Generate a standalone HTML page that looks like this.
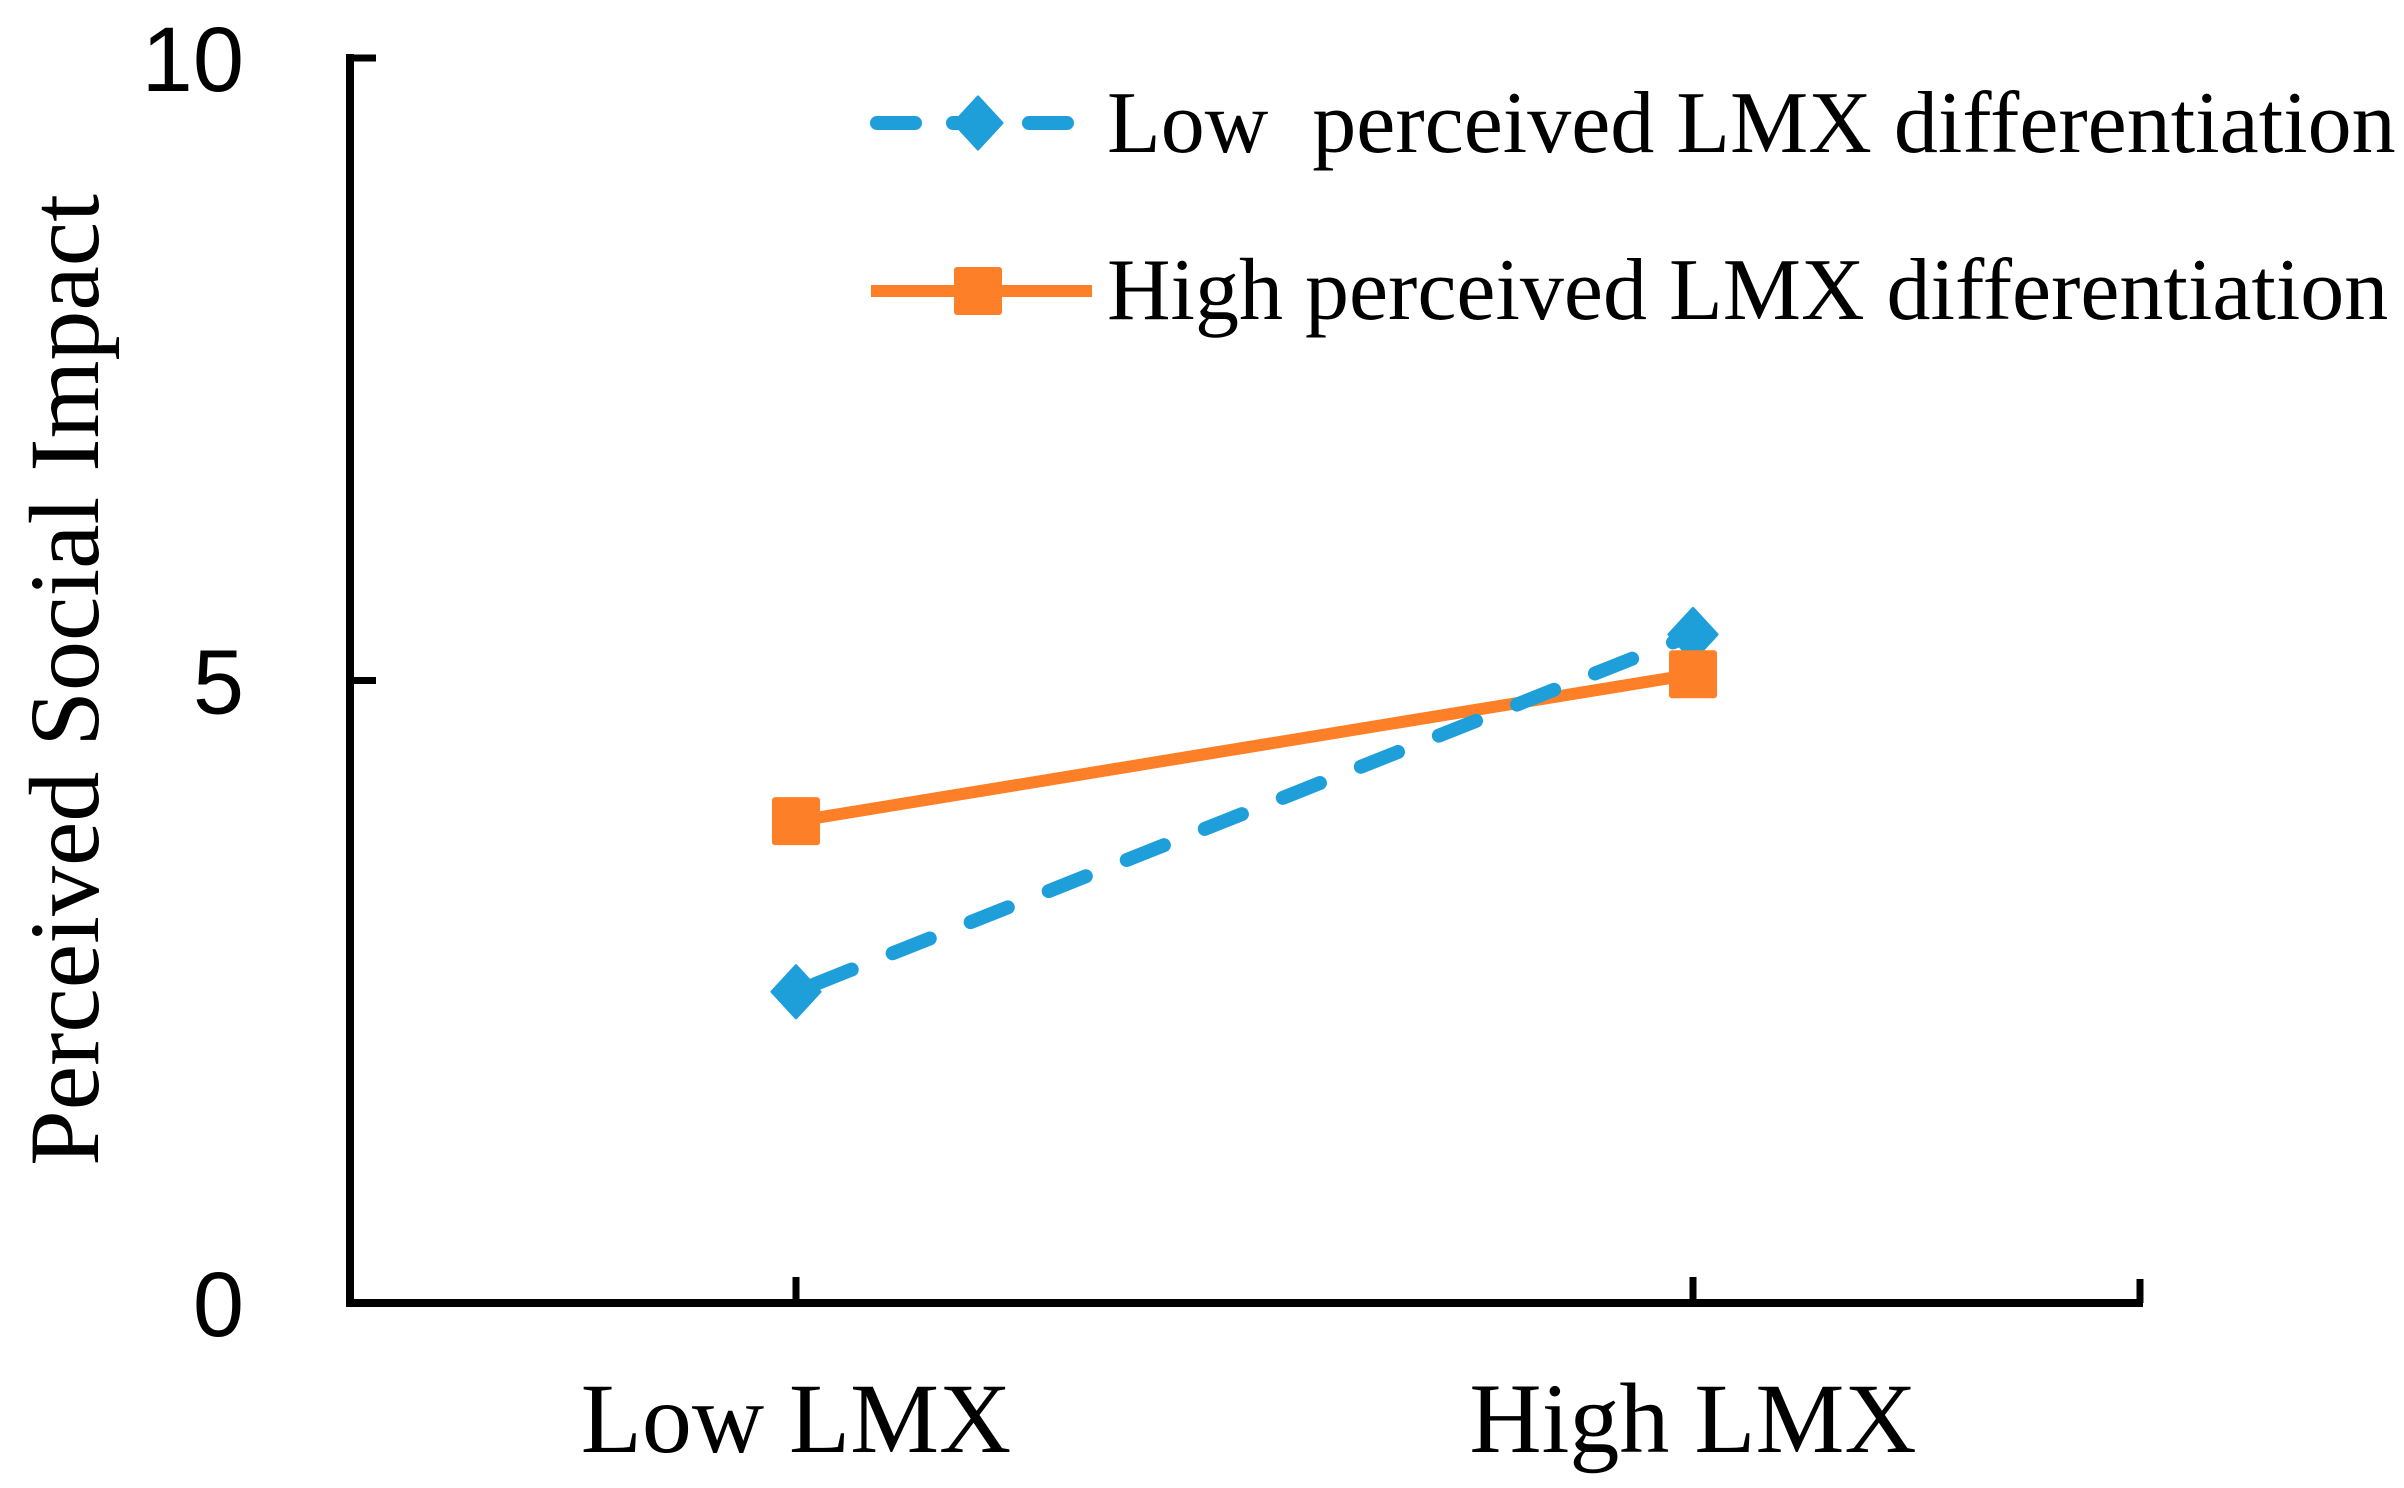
<!DOCTYPE html>
<html><head><meta charset="utf-8"><style>
html,body{margin:0;padding:0;background:#fff;}
svg{display:block;}
text{white-space:pre;}
</style></head><body>
<svg id="chart" width="2404" height="1488" viewBox="0 0 2404 1488" xmlns="http://www.w3.org/2000/svg">
<g id="axes"></g><g id="series"></g><g id="legend"></g>
</svg>
<script>
const categories = ["Low LMX", "High LMX"];
const lowDiffValues = [2.5, 5.37];
const highDiffValues = [3.87, 5.05];
const yTicks = [0, 5, 10];
const seriesNames = ["Low  perceived LMX differentiation", "High perceived LMX differentiation"];

const NS = "http://www.w3.org/2000/svg";
const X0 = 350, X1 = 2140, Y0 = 1303, Y1 = 58;
const catX = [796, 1693];
function xScale(i){ return catX[0] + (catX[1]-catX[0]) * i / (categories.length-1); }
function yScale(v){ return Y0 - (v/10)*(Y0-Y1); }
function mk(tag, attrs, parent, text){
  const e = document.createElementNS(NS, tag);
  for (const k in attrs) e.setAttribute(k, attrs[k]);
  if (text !== undefined) e.textContent = text;
  parent.appendChild(e); return e;
}
const axes = document.getElementById('axes');
const series = document.getElementById('series');
const legend = document.getElementById('legend');

let e;
e = mk('line',{x1:X0,y1:Y1-4,x2:X0,y2:Y0+4,stroke:'#000','stroke-width':8},axes);


e = mk('line',{x1:X0-4,y1:Y0,x2:X1+3,y2:Y0,stroke:'#000','stroke-width':8},axes);


e = mk('line',{x1:X1,y1:Y0,x2:X1,y2:Y0-24,stroke:'#000','stroke-width':7},axes);



yTicks.forEach(t=>{
  const y = yScale(t);
  let tk = mk('line',{x1:X0,y1:y,x2:X0+26,y2:y,stroke:'#000','stroke-width':7},axes);
  
  
  let lb = mk('text',{x:244,y:y+33,'text-anchor':'end','font-family':'Liberation Sans, sans-serif','font-size':92,fill:'#000'},axes,String(t));
  
  
});
categories.forEach((c,i)=>{
  const x = xScale(i);
  let tk = mk('line',{x1:x,y1:Y0,x2:x,y2:Y0-26,stroke:'#000','stroke-width':7},axes);
  
  
  let lb = mk('text',{x:x,y:1452,'text-anchor':'middle','font-family':'Liberation Serif, serif','font-size':100,fill:'#000'},axes,c);
  
  
});
e = mk('text',{x:0,y:0,transform:'translate(98,680) rotate(-90)','text-anchor':'middle','font-family':'Liberation Serif, serif','font-size':100,fill:'#000'},axes,'Perceived Social Impact');



const BLUE = '#1e9fda', ORANGE = '#fd7f27';
function diamond(cx,cy,parent,name){
  const d = mk('polygon',{points:`${cx},${cy-26} ${cx+24},${cy} ${cx},${cy+26} ${cx-24},${cy}`,fill:BLUE,stroke:BLUE,'stroke-width':3,'stroke-linejoin':'round'},parent);
  
  
}
function square(cx,cy,parent,name){
  const s = mk('rect',{x:cx-24,y:cy-24,width:48,height:48,rx:3,fill:ORANGE},parent);
  
  
}
e = mk('polyline',{points:highDiffValues.map((v,i)=>xScale(i)+','+yScale(v)).join(' '),fill:'none',stroke:ORANGE,'stroke-width':12},series);


e = mk('polyline',{points:lowDiffValues.map((v,i)=>xScale(i)+','+yScale(v)).join(' '),fill:'none',stroke:BLUE,'stroke-width':14,'stroke-dasharray':'40 44','stroke-linecap':'round','stroke-dashoffset':'-20'},series);


lowDiffValues.forEach((v,i)=>diamond(xScale(i),yScale(v),series,'low-diff-point-'+i));
highDiffValues.forEach((v,i)=>square(xScale(i),yScale(v),series,'high-diff-point-'+i));

e = mk('line',{x1:877,y1:123,x2:1088,y2:123,stroke:BLUE,'stroke-width':14,'stroke-dasharray':'38 38','stroke-linecap':'round'},legend);


diamond(978,123,legend,'legend-low-diff-marker');
e = mk('text',{x:1107,y:152,'font-family':'Liberation Serif, serif','font-size':88,fill:'#000'},legend,seriesNames[0]);


e = mk('line',{x1:871,y1:291,x2:1092,y2:291,stroke:ORANGE,'stroke-width':12},legend);


square(978,291,legend,'legend-high-diff-marker');
e = mk('text',{x:1107,y:319,'font-family':'Liberation Serif, serif','font-size':88,fill:'#000'},legend,seriesNames[1]);


</script>
</body></html>
